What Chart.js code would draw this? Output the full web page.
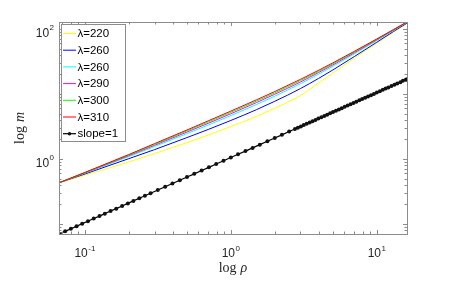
<!DOCTYPE html>
<html>
<head>
<meta charset="utf-8">
<script src="https://cdn.jsdelivr.net/npm/chart.js@4.4.0/dist/chart.umd.min.js"></script>
<style>
  body { margin: 0; background: #fff; }
  canvas { display: block; }
</style>
</head>
<body>
<canvas id="grafico" width="450" height="281"></canvas>
<script>
// Valores de rho donde se leyeron las curvas lambda
var rho = [0.0665, 0.1, 0.2, 0.3, 0.5, 0.7, 1, 1.5, 2, 3, 4, 5, 7, 10, 13, 16.1];

// Series log m para cada lambda
var m220 = [0.43, 0.562, 0.90, 1.21, 1.78, 2.33, 3.15, 4.53, 6.04, 9.44, 14.8, 21.0, 35.5, 60, 89, 121.5];
var m260a = [0.43, 0.586, 1.01, 1.39, 2.13, 2.84, 3.91, 5.74, 7.71, 12.1, 17.4, 23.4, 37.5, 62.5, 91.4, 123];
var m260b = [0.43, 0.603, 1.089, 1.552, 2.45, 3.33, 4.65, 6.88, 9.24, 14.4, 20.2, 26.7, 41.3, 66.5, 94.8, 126];
var m290 = [0.43, 0.610, 1.123, 1.62, 2.59, 3.54, 4.96, 7.37, 9.90, 15.3, 21.4, 28.0, 42.9, 68.0, 96.1, 127];
var m300 = [0.43, 0.615, 1.149, 1.67, 2.70, 3.71, 5.22, 7.77, 10.4, 16.1, 22.3, 29.1, 44.1, 69.3, 97.1, 128];
var m310 = [0.43, 0.62, 1.17, 1.72, 2.79, 3.86, 5.45, 8.13, 10.9, 16.8, 23.2, 30.1, 45.2, 70.3, 98, 128.5];

var etiquetas = ["λ=220", "λ=260", "λ=260", "λ=290", "λ=300", "λ=310"];
var colores = ["#ffff00", "#0000ff", "#00ffff", "#ff00ff", "#00ff00", "#ff0000"];
var series = [m220, m260a, m260b, m290, m300, m310];

// Recta de pendiente 1 (con marcadores)
var rhoPend = [0.067, 0.0733, 0.0802, 0.0877, 0.0959, 0.105, 0.115, 0.126, 0.137, 0.150, 0.164, 0.180,
    0.197, 0.215, 0.236, 0.258, 0.282, 0.316, 0.355, 0.398, 0.447, 0.501, 0.562, 0.631, 0.708, 0.794,
    0.891, 1.0, 1.12, 1.26, 1.41, 1.58, 1.78, 2.0, 2.24, 2.51, 2.75, 2.88, 3.02, 3.16, 3.31, 3.47,
    3.63, 3.80, 3.98, 4.17, 4.37, 4.57, 4.79, 5.01, 5.25, 5.50, 5.75, 6.03, 6.31, 6.61, 6.92, 7.24,
    7.59, 7.94, 8.32, 8.71, 9.12, 9.55, 10, 10.5, 11.0, 11.5, 12.0, 12.6, 13.2, 13.8, 14.5, 15.1, 15.8, 16.1];
var mPend = [0.070, 0.077, 0.084, 0.092, 0.101, 0.110, 0.121, 0.132, 0.144, 0.158, 0.172, 0.189,
    0.207, 0.226, 0.248, 0.271, 0.296, 0.332, 0.373, 0.418, 0.469, 0.526, 0.590, 0.663, 0.743, 0.834,
    0.936, 1.05, 1.18, 1.32, 1.48, 1.66, 1.87, 2.1, 2.35, 2.64, 2.89, 3.02, 3.17, 3.32, 3.48, 3.64,
    3.81, 3.99, 4.18, 4.38, 4.59, 4.80, 5.03, 5.26, 5.51, 5.78, 6.04, 6.33, 6.63, 6.94, 7.27, 7.60,
    7.97, 8.34, 8.74, 9.15, 9.58, 10.0, 10.5, 11.0, 11.6, 12.1, 12.6, 13.2, 13.9, 14.5, 15.2, 15.9, 16.6, 16.9];

// Marcas con etiqueta
var ticksX = [0.1, 1, 10];
var expX = ["-1", "0", "1"];
var ticksY = [1, 100];
var expY = ["0", "2"];

var colorEje = "#8c8c8c";

function puntos(xs, ys) {
    return xs.map(function (x, i) {
        return { x: x, y: ys[i] };
    });
}

var datasets = series.map(function (s, i) {
    return {
        label: etiquetas[i],
        data: puntos(rho, s),
        borderColor: colores[i],
        borderWidth: 1,
        pointRadius: 0,
        cubicInterpolationMode: "monotone",
        order: 6 - i
    };
});
datasets.push({
    label: "slope=1",
    data: puntos(rhoPend, mPend),
    borderColor: "#000",
    backgroundColor: "#000",
    borderWidth: 1.2,
    pointRadius: 2,
    pointBorderWidth: 0,
    pointBackgroundColor: "#111",
    order: 7
});

// Texto "10" con exponente
function potencia(ctx, exp, x, y, alinear) {
    ctx.font = "12px 'Liberation Sans', Arial, sans-serif";
    var wb = ctx.measureText("10").width;
    ctx.font = "8px 'Liberation Sans', Arial, sans-serif";
    var we = ctx.measureText(exp).width;
    var x0;
    if (alinear === "centro") {
        x0 = x - (wb + we + 0.5) / 2;
    } else {
        x0 = x - (wb + we + 0.5);
    }
    ctx.fillStyle = "#262626";
    ctx.textAlign = "left";
    ctx.textBaseline = "alphabetic";
    ctx.font = "12px 'Liberation Sans', Arial, sans-serif";
    ctx.fillText("10", x0, y);
    ctx.font = "8px 'Liberation Sans', Arial, sans-serif";
    ctx.fillText(exp, x0 + wb + 0.5, y - 6.5);
}

var ejesPlugin = {
    id: "ejesMatlab",
    afterDatasetsDraw: function (chart) {
        var ctx = chart.ctx;
        var a = chart.chartArea;
        var sx = chart.scales.x;
        var sy = chart.scales.y;
        ctx.save();

        // Caja
        ctx.strokeStyle = colorEje;
        ctx.lineWidth = 1;
        ctx.strokeRect(Math.round(a.left) + 0.5, Math.round(a.top) + 0.5,
            Math.round(a.right - a.left), Math.round(a.bottom - a.top));

        // Marcas menores y mayores en los cuatro lados
        ctx.beginPath();
        for (var e = -2; e <= 2; e++) {
            for (var k = 1; k <= 9; k++) {
                var v = k * Math.pow(10, e);
                var largo = k === 1 ? 4 : 2.5;
                if (v >= sx.min && v <= sx.max) {
                    var px = Math.round(sx.getPixelForValue(v)) + 0.5;
                    ctx.moveTo(px, a.bottom);
                    ctx.lineTo(px, a.bottom - largo);
                    ctx.moveTo(px, a.top);
                    ctx.lineTo(px, a.top + largo);
                }
                if (v >= sy.min && v <= sy.max) {
                    var py = Math.round(sy.getPixelForValue(v)) + 0.5;
                    ctx.moveTo(a.left, py);
                    ctx.lineTo(a.left + largo, py);
                    ctx.moveTo(a.right, py);
                    ctx.lineTo(a.right - largo, py);
                }
            }
        }
        ctx.stroke();

        // Etiquetas de las marcas
        ticksX.forEach(function (t, i) {
            potencia(ctx, expX[i], sx.getPixelForValue(t), 257, "centro");
        });
        ticksY.forEach(function (t, i) {
            potencia(ctx, expY[i], 54, sy.getPixelForValue(t) + 8, "derecha");
        });

        // Títulos de los ejes
        ctx.fillStyle = "#262626";
        ctx.textBaseline = "alphabetic";
        ctx.textAlign = "left";
        ctx.font = "14px 'Liberation Serif', 'DejaVu Serif', serif";
        var wLog = ctx.measureText("log").width;
        ctx.font = "italic 14px 'Liberation Serif', 'DejaVu Serif', serif";
        var wRho = ctx.measureText("ρ").width;
        var xt = (a.left + a.right) / 2 - (wLog + 4 + wRho) / 2;
        ctx.font = "14px 'Liberation Serif', 'DejaVu Serif', serif";
        ctx.fillText("log", xt, 272);
        ctx.font = "italic 14px 'Liberation Serif', 'DejaVu Serif', serif";
        ctx.fillText("ρ", xt + wLog + 4, 272);

        ctx.save();
        ctx.translate(24, (a.top + a.bottom) / 2);
        ctx.rotate(-Math.PI / 2);
        ctx.font = "14px 'Liberation Serif', 'DejaVu Serif', serif";
        var wLog2 = ctx.measureText("log").width;
        ctx.font = "italic 14px 'Liberation Serif', 'DejaVu Serif', serif";
        var wM = ctx.measureText("m").width;
        var xm = -(wLog2 + 4 + wM) / 2;
        ctx.font = "14px 'Liberation Serif', 'DejaVu Serif', serif";
        ctx.fillText("log", xm, 0);
        ctx.font = "italic 14px 'Liberation Serif', 'DejaVu Serif', serif";
        ctx.fillText("m", xm + wLog2 + 4, 0);
        ctx.restore();

        // Leyenda dentro del área
        var lx = 61.5, ly = 24.5, lw = 64, lh = 117;
        ctx.fillStyle = "#fff";
        ctx.fillRect(lx, ly, lw, lh);
        ctx.strokeStyle = colorEje;
        ctx.strokeRect(lx, ly, lw, lh);
        ctx.font = "11.5px 'Liberation Sans', Arial, sans-serif";
        ctx.textBaseline = "middle";
        chart.data.datasets.forEach(function (ds, i) {
            var y = 33.5 + 16.7 * i;
            ctx.strokeStyle = ds.borderColor;
            ctx.lineWidth = ds.borderWidth;
            ctx.beginPath();
            ctx.moveTo(63, y);
            ctx.lineTo(76, y);
            ctx.stroke();
            if (ds.pointRadius > 0) {
                ctx.fillStyle = ds.pointBackgroundColor;
                ctx.beginPath();
                ctx.arc(69.5, y, 1.8, 0, Math.PI * 2);
                ctx.fill();
            }
            ctx.fillStyle = "#000";
            ctx.fillText(ds.label, 77.5, y + 0.5);
        });

        ctx.restore();
    }
};

var myChart = new Chart(document.getElementById("grafico").getContext("2d"), {
    type: "line",
    data: { datasets: datasets },
    options: {
        responsive: false,
        animation: false,
        layout: { padding: { left: 59, right: 43, top: 22, bottom: 47 } },
        plugins: {
            legend: { display: false },
            tooltip: { enabled: false }
        },
        scales: {
            x: { type: "logarithmic", min: 0.0665, max: 16.1, display: false },
            y: { type: "logarithmic", min: 0.07, max: 128, display: false }
        }
    },
    plugins: [ejesPlugin]
});
</script>
</body>
</html>
